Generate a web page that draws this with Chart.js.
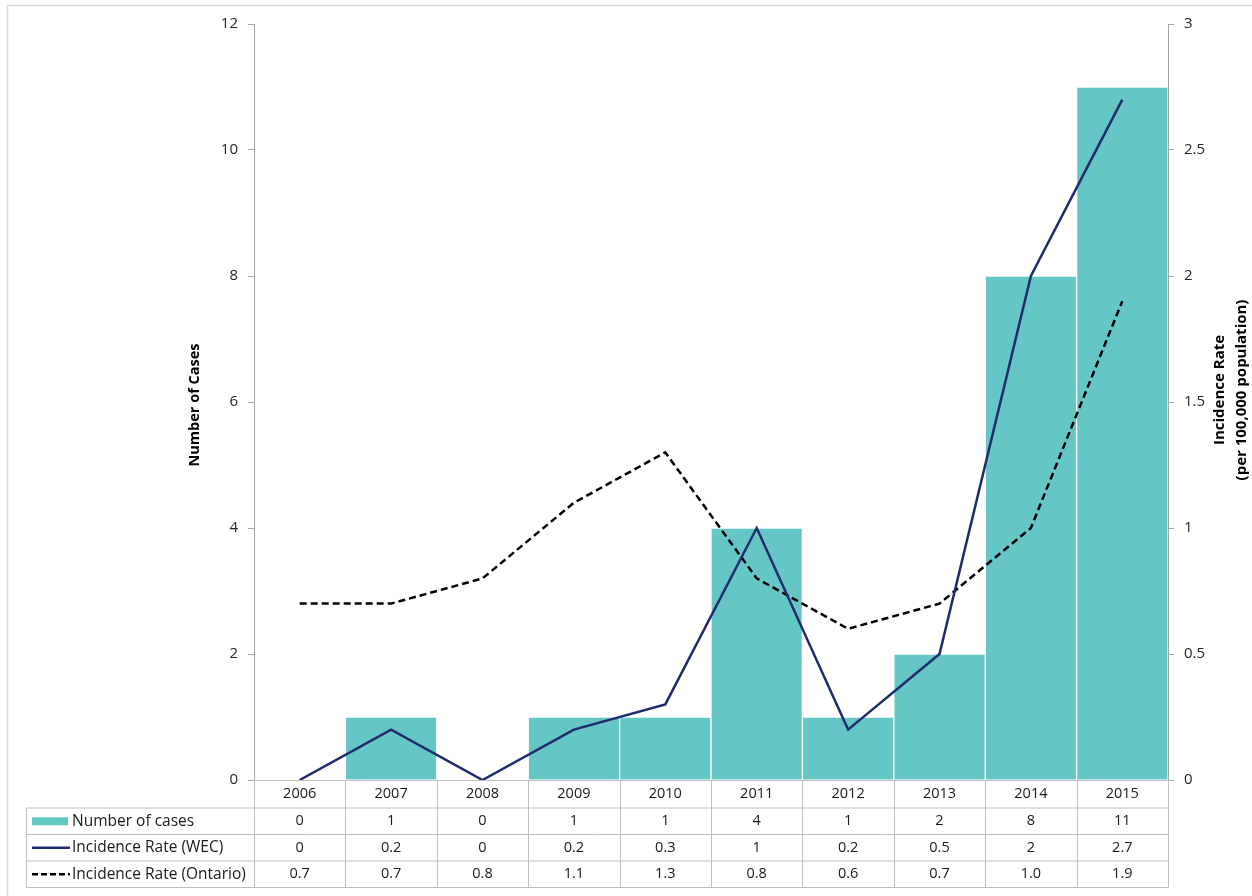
<!DOCTYPE html>
<html>
<head>
<meta charset="utf-8">
<script src="https://cdn.jsdelivr.net/npm/chart.js@4.4.0/dist/chart.umd.min.js"></script>
<style>
    html, body { margin: 0; padding: 0; background: #fff; }
    #wrap { position: relative; width: 1252px; height: 896px; }
</style>
</head>
<body>
<div id="wrap"><canvas id="casesChart" width="1252" height="896"></canvas></div>
<script>
// Data
const years = ['2006', '2007', '2008', '2009', '2010', '2011', '2012', '2013', '2014', '2015'];
const cases = [0, 1, 0, 1, 1, 4, 1, 2, 8, 11];
const rateWEC = [0, 0.2, 0, 0.2, 0.3, 1, 0.2, 0.5, 2, 2.7];
const rateOntario = [0.7, 0.7, 0.8, 1.1, 1.3, 0.8, 0.6, 0.7, 1.0, 1.9];
const rowLabels = ['Number of cases', 'Incidence Rate (WEC)', 'Incidence Rate (Ontario)'];

const FONT = '"Open Sans", Lato, sans-serif';
const BAR_COLOR = '#64c6c5';
const WEC_COLOR = '#1f2c6b';
const AXIS_COLOR = '#a6a6a6';
const TABLE_COLOR = '#bfbfbf';

// Tabel data di bawah grafik + judul sumbu + bingkai
const tablePlugin = {
    id: 'dataTable',
    beforeDraw(chart) {
        const ctx = chart.ctx;
        ctx.save();
        ctx.strokeStyle = '#d9d9d9';
        ctx.lineWidth = 1.5;
        ctx.beginPath();
        ctx.moveTo(7.5, 896);
        ctx.lineTo(7.5, 5.5);
        ctx.lineTo(1252, 5.5);
        ctx.stroke();
        ctx.restore();
    },
    afterDraw(chart) {
        const ctx = chart.ctx;
        const x = chart.scales.x;
        const area = chart.chartArea;
        const colW = x.getPixelForValue(1) - x.getPixelForValue(0);
        const rows = [area.bottom, 808, 834.5, 861, 887.5];
        const tableLeft = 26.5;

        ctx.save();
        ctx.lineWidth = 1;
        ctx.strokeStyle = TABLE_COLOR;

        // garis horizontal
        ctx.beginPath();
        ctx.moveTo(area.left, Math.round(rows[0]) + 0.5);
        ctx.lineTo(area.right, Math.round(rows[0]) + 0.5);
        for (let r = 1; r < rows.length; r++) {
            ctx.moveTo(tableLeft, rows[r]);
            ctx.lineTo(area.right, rows[r]);
        }
        // garis vertikal
        ctx.moveTo(tableLeft, rows[1]);
        ctx.lineTo(tableLeft, rows[4]);
        for (let i = 0; i <= years.length; i++) {
            const px = Math.round(x.getPixelForValue(i) - colW / 2) + 0.5;
            ctx.moveTo(px, rows[0]);
            ctx.lineTo(px, rows[4]);
        }
        ctx.stroke();

        // teks
        ctx.fillStyle = '#1a1a1a';
        ctx.font = '14.5px ' + FONT;
        ctx.textAlign = 'center';
        ctx.textBaseline = 'middle';
        const values = [
            cases.map(v => String(v)),
            rateWEC.map(v => String(v)),
            rateOntario.map(v => v.toFixed(1))
        ];
        years.forEach((y, i) => {
            const cx = x.getPixelForValue(i);
            ctx.fillText(y, cx, (rows[0] + rows[1]) / 2);
            for (let r = 0; r < 3; r++) {
                ctx.fillText(values[r][i], cx, (rows[r + 1] + rows[r + 2]) / 2);
            }
        });

        // legenda di kolom pertama
        ctx.textAlign = 'left';
        ctx.font = '15.5px ' + FONT;
        rowLabels.forEach((label, r) => {
            const cy = (rows[r + 1] + rows[r + 2]) / 2;
            ctx.fillStyle = '#1a1a1a';
            ctx.fillText(label, 72, cy);
            if (r === 0) {
                ctx.fillStyle = BAR_COLOR;
                ctx.fillRect(32, cy - 4, 36, 8);
            } else {
                ctx.beginPath();
                ctx.lineWidth = 2.5;
                ctx.strokeStyle = r === 1 ? WEC_COLOR : '#000';
                ctx.setLineDash(r === 1 ? [] : [6, 3]);
                ctx.moveTo(32, cy);
                ctx.lineTo(70, cy);
                ctx.stroke();
                ctx.setLineDash([]);
            }
        });

        // judul sumbu
        ctx.fillStyle = '#000';
        ctx.font = 'bold 14.5px ' + FONT;
        ctx.textAlign = 'center';
        ctx.translate(195, (area.top + area.bottom) / 2 + 3);
        ctx.rotate(-Math.PI / 2);
        ctx.fillText('Number of Cases', 0, 0);
        ctx.restore();

        ctx.save();
        ctx.fillStyle = '#000';
        ctx.font = 'bold 15px ' + FONT;
        ctx.textAlign = 'center';
        ctx.textBaseline = 'middle';
        ctx.translate(1231, 390);
        ctx.rotate(-Math.PI / 2);
        ctx.fillText('Incidence Rate', 0, -11);
        ctx.fillText('(per 100,000 population)', 0, 11);
        ctx.restore();
    }
};

function initCasesChart() {
    const ctx = document.getElementById('casesChart').getContext('2d');

    const chart = new Chart(ctx, {
        type: 'bar',
        data: {
            labels: years,
            datasets: [
                {
                    type: 'line',
                    label: 'Incidence Rate (WEC)',
                    data: rateWEC,
                    yAxisID: 'y1',
                    borderColor: WEC_COLOR,
                    borderWidth: 2.5,
                    tension: 0,
                    pointRadius: 0,
                    order: 1
                },
                {
                    type: 'line',
                    label: 'Incidence Rate (Ontario)',
                    data: rateOntario,
                    yAxisID: 'y1',
                    borderColor: '#000000',
                    borderWidth: 2.5,
                    borderDash: [7, 4],
                    tension: 0,
                    pointRadius: 0,
                    order: 2
                },
                {
                    label: 'Number of cases',
                    data: cases,
                    yAxisID: 'y',
                    backgroundColor: BAR_COLOR,
                    borderColor: '#ffffff',
                    borderWidth: 1,
                    categoryPercentage: 1,
                    barPercentage: 1,
                    order: 3
                }
            ]
        },
        options: {
            responsive: false,
            animation: false,
            layout: {
                padding: { top: 24, bottom: 116, left: 0, right: 0 }
            },
            scales: {
                x: {
                    display: false,
                    offset: true
                },
                y: {
                    position: 'left',
                    min: 0,
                    max: 12,
                    ticks: {
                        stepSize: 2,
                        padding: 10,
                        color: '#262626',
                        font: { family: FONT, size: 15 }
                    },
                    grid: {
                        drawOnChartArea: false,
                        tickLength: 6,
                        color: AXIS_COLOR
                    },
                    border: { color: AXIS_COLOR },
                    afterFit: function(scale) { scale.width = 254; }
                },
                y1: {
                    position: 'right',
                    min: 0,
                    max: 3,
                    ticks: {
                        stepSize: 0.5,
                        padding: 10,
                        color: '#262626',
                        font: { family: FONT, size: 15 },
                        callback: function(value) {
                            return String(value);
                        }
                    },
                    grid: {
                        drawOnChartArea: false,
                        tickLength: 6,
                        color: AXIS_COLOR
                    },
                    border: { color: AXIS_COLOR },
                    afterFit: function(scale) { scale.width = 84; }
                }
            },
            plugins: {
                legend: { display: false },
                tooltip: { enabled: false }
            }
        },
        plugins: [tablePlugin]
    });
}

document.addEventListener('DOMContentLoaded', function() {
    initCasesChart();
});
</script>
</body>
</html>
